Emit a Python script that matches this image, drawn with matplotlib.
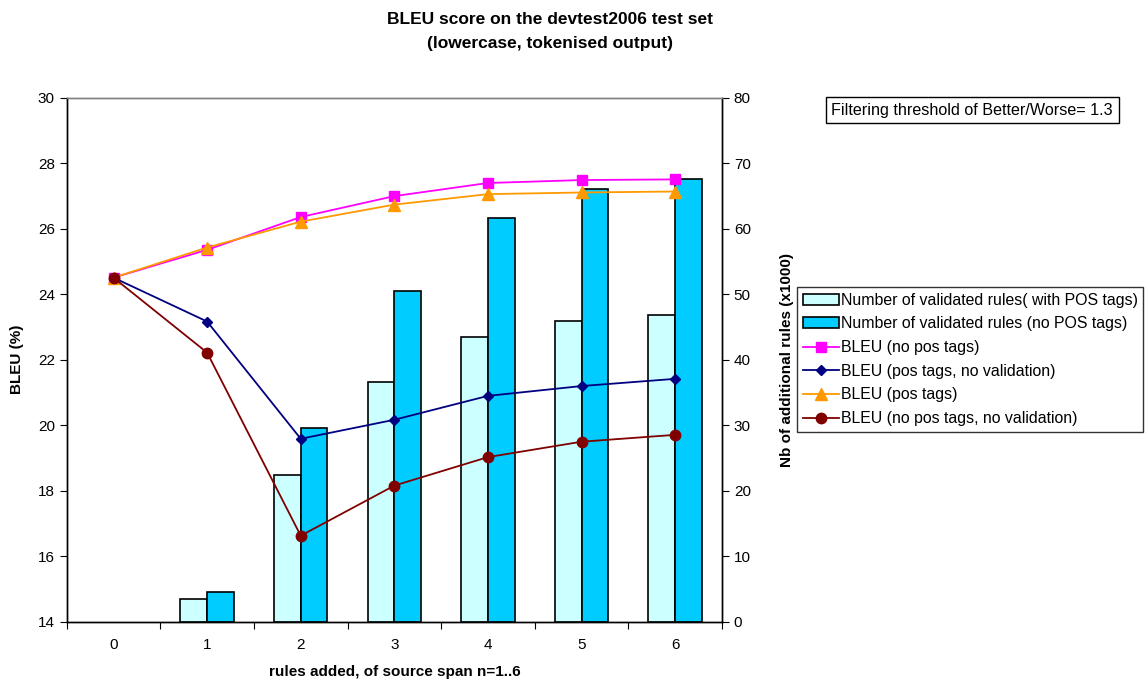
import matplotlib
matplotlib.use("Agg")
import matplotlib.pyplot as plt
import numpy as np
from matplotlib.patches import Patch
from matplotlib.lines import Line2D

plt.rcParams['font.family'] = ['Liberation Sans', 'DejaVu Sans']

# data
spans = [0, 1, 2, 3, 4, 5, 6]
rules_with_pos = [0, 3.4, 22.4, 36.5, 43.4, 45.9, 46.8]
rules_no_pos = [0, 4.5, 29.5, 50.5, 61.6, 66.1, 67.5]
bleu_no_pos = [24.5, 25.35, 26.35, 26.99, 27.39, 27.48, 27.5]
bleu_pos_noval = [24.5, 23.16, 19.58, 20.16, 20.89, 21.19, 21.41]
bleu_pos = [24.5, 25.42, 26.21, 26.73, 27.05, 27.10, 27.13]
bleu_no_pos_noval = [24.5, 22.21, 16.62, 18.15, 19.02, 19.49, 19.70]

fig = plt.figure(figsize=(11.46, 6.82), dpi=100)
ax = fig.add_axes([0.0582, 0.0887, 0.5718, 0.7683])
ax2 = ax.twinx()

x = np.array(spans)
w = 0.285
b1 = ax2.bar(x - w / 2, rules_with_pos, w, color='#CCFFFF', edgecolor='black', linewidth=1.2)
b2 = ax2.bar(x + w / 2, rules_no_pos, w, color='#00CCFF', edgecolor='black', linewidth=1.2)
# empty bars leave no outline
for bars in (b1, b2):
    for r in bars:
        if r.get_height() == 0:
            r.set_visible(False)
ax2.set_ylim(0, 80)
ax2.set_yticks(range(0, 81, 10))

ax.set_zorder(ax2.get_zorder() + 1)
ax.patch.set_visible(False)

ax.plot(x, bleu_no_pos, color='#FF00FF', marker='s', ms=7, lw=1.3)
ax.plot(x, bleu_pos_noval, color='#000080', marker='D', ms=5.5, lw=1.3)
ax.plot(x, bleu_pos, color='#FF9900', marker='^', ms=8, lw=1.3)
ax.plot(x, bleu_no_pos_noval, color='#800000', marker='o', ms=7.5, lw=1.3)

ax.set_ylim(14, 30)
ax.set_yticks(range(14, 31, 2))
ax.set_xlim(-0.5, 6.5)
ax.set_xticks(np.arange(-0.5, 6.6, 1))
ax.set_xticklabels([])
ax.set_xticks(x, minor=True)
ax.set_xticklabels([str(s) for s in spans], minor=True)
ax.tick_params(axis='x', which='minor', length=0, pad=12, labelsize=11)
ax.tick_params(axis='x', which='major', direction='out', length=5)
ax.tick_params(axis='y', direction='out', length=5, labelsize=11)
ax2.tick_params(axis='y', direction='out', length=5, labelsize=11)

for a in (ax, ax2):
    for s in a.spines.values():
        s.set_linewidth(1.0)
ax.spines['top'].set_color('#808080')
ax2.spines['top'].set_color('#808080')

ax.set_xlabel('rules added, of source span n=1..6', fontweight='bold', fontsize=11, labelpad=9)
ax.set_ylabel('BLEU (%)', fontweight='bold', fontsize=11, labelpad=10)
ax2.set_ylabel('Nb of additional rules (x1000)', fontweight='bold', fontsize=11, labelpad=21)

fig.text(0.48, 0.983, 'BLEU score on the devtest2006 test set\n(lowercase, tokenised output)',
         ha='center', va='top', fontsize=12.5, fontweight='bold', linespacing=1.75)

handles = [
    Patch(facecolor='#CCFFFF', edgecolor='black', linewidth=1.2),
    Patch(facecolor='#00CCFF', edgecolor='black', linewidth=1.2),
    Line2D([], [], color='#FF00FF', marker='s', ms=7, lw=1.3),
    Line2D([], [], color='#000080', marker='D', ms=5.5, lw=1.3),
    Line2D([], [], color='#FF9900', marker='^', ms=8, lw=1.3),
    Line2D([], [], color='#800000', marker='o', ms=7.5, lw=1.3),
]
labels = [
    'Number of validated rules( with POS tags)',
    'Number of validated rules (no POS tags)',
    'BLEU (no pos tags)',
    'BLEU (pos tags, no validation)',
    'BLEU (pos tags)',
    'BLEU (no pos tags, no validation)',
]
leg = fig.legend(handles, labels, loc='upper left', bbox_to_anchor=(0.6955, 0.579),
                 fontsize=11.4, frameon=True, fancybox=False, edgecolor='black',
                 handlelength=2.3, handletextpad=0.1, borderpad=0.35, labelspacing=0.55,
                 borderaxespad=0)
leg.get_frame().set_linewidth(1.0)

fig.text(0.7255, 0.8385, 'Filtering threshold of Better/Worse= 1.3', fontsize=11.6,
         ha='left', va='center',
         bbox=dict(boxstyle='square,pad=0.35', facecolor='white', edgecolor='black', linewidth=1.0))

fig.savefig('out.png', dpi=100)
